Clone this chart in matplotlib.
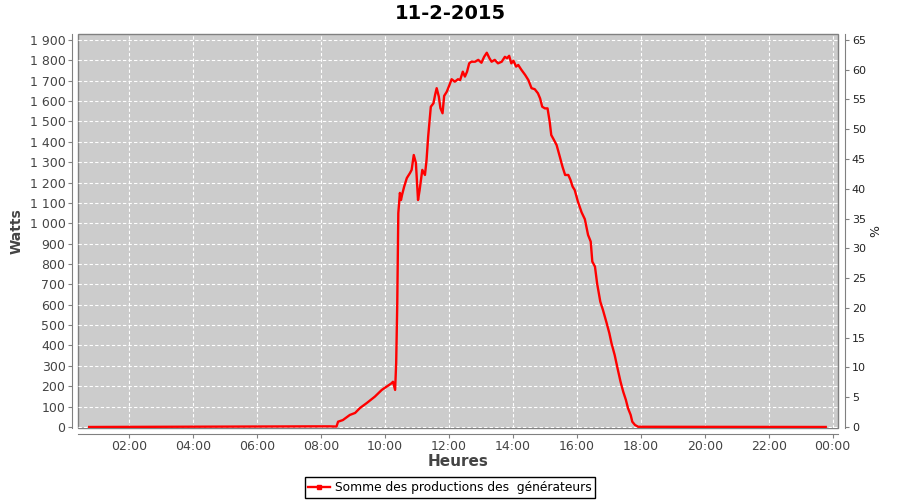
import matplotlib
matplotlib.use('Agg')
import matplotlib.pyplot as plt
import matplotlib.dates as mdates
from matplotlib.lines import Line2D
from matplotlib.ticker import FuncFormatter
from datetime import datetime, timedelta

# production du 11-2-2015
times = ["00:45", "07:45", "08:17", "08:29", "08:32", "08:41", "08:54", "09:04",
         "09:13", "09:26", "09:41", "09:54", "10:03", "10:12", "10:15", "10:19",
         "10:21", "10:23", "10:25", "10:28", "10:30", "10:32", "10:36", "10:41",
         "10:47", "10:50", "10:54", "10:58", "11:02", "11:05", "11:10", "11:15",
         "11:18", "11:21", "11:26", "11:31", "11:34", "11:37", "11:41", "11:44",
         "11:48", "11:51", "11:56", "12:01", "12:05", "12:11", "12:17", "12:21",
         "12:26", "12:30", "12:34", "12:38", "12:42", "12:49", "12:55", "13:01",
         "13:06", "13:11", "13:16", "13:20", "13:26", "13:32", "13:39", "13:45",
         "13:49", "13:53", "13:57", "14:01", "14:06", "14:10", "14:16", "14:23",
         "14:29", "14:35", "14:41", "14:47", "14:51", "14:55", "15:00", "15:05",
         "15:09", "15:12", "15:17", "15:22", "15:28", "15:33", "15:38", "15:44",
         "15:48", "15:52", "15:56", "16:02", "16:09", "16:15", "16:21", "16:26",
         "16:29", "16:34", "16:38", "16:44", "16:49", "16:56", "17:01", "17:05",
         "17:11", "17:17", "17:22", "17:27", "17:32", "17:36", "17:41", "17:44",
         "17:49", "17:55", "23:47"]
watts = [0, 3, 3, 2, 26, 34, 59, 69,
         93, 118, 149, 182, 198, 214, 222, 182,
         314, 600, 1050, 1149, 1114, 1139, 1180, 1222,
         1247, 1262, 1335, 1296, 1114, 1163, 1262, 1237,
         1311, 1425, 1572, 1589, 1630, 1663, 1622, 1565,
         1540, 1625, 1646, 1679, 1707, 1695, 1707, 1703,
         1744, 1720, 1744, 1785, 1793, 1793, 1802, 1788,
         1817, 1837, 1810, 1793, 1802, 1785, 1793, 1817,
         1810, 1822, 1785, 1798, 1769, 1777, 1753, 1728,
         1703, 1663, 1658, 1638, 1613, 1572, 1564, 1564,
         1499, 1433, 1409, 1384, 1327, 1278, 1237, 1237,
         1213, 1180, 1163, 1106, 1053, 1020, 943, 910,
         812, 787, 705, 615, 574, 509, 460, 411,
         353, 280, 222, 173, 133, 92, 59, 26,
         10, 1, 0]

title = "11-2-2015"
serie_label = "Somme des productions des  générateurs"
watt_ticks = list(range(0, 2000, 100))
pct_ticks = list(range(0, 70, 5))

day = datetime(2015, 2, 11)


def to_dt(s):
    h, m = map(int, s.split(':'))
    return day + timedelta(hours=h, minutes=m)


x = [to_dt(t) for t in times]

fig = plt.figure(figsize=(9, 5), dpi=100)
ax = fig.add_axes([78 / 900, 72 / 500, 760 / 900, 394 / 500])
ax.set_facecolor('#cccccc')
ax.patch.set_edgecolor('#808080')
ax.patch.set_linewidth(1.0)

ax.plot(x, watts, color='#ff0000', lw=1.7, solid_joinstyle='round')

ax.set_xlim(day + timedelta(minutes=24), day + timedelta(hours=24, minutes=10))
ax.set_ylim(-5, 1929)
ax.set_yticks(watt_ticks)
ax.yaxis.set_major_formatter(FuncFormatter(lambda v, p: f"{int(v):,}".replace(',', ' ')))
ax.set_xticks([day + timedelta(hours=h) for h in range(2, 25, 2)])
ax.xaxis.set_major_formatter(mdates.DateFormatter('%H:%M'))
ax.grid(True, color='white', ls=(0, (3, 2)), lw=0.8)
ax.set_axisbelow(True)

for side in ['top', 'right']:
    ax.spines[side].set_visible(False)
for side in ['left', 'bottom']:
    ax.spines[side].set_position(('outward', 4))
    ax.spines[side].set_color('#808080')
ax.tick_params(colors='#808080', labelcolor='#444444', labelsize=9, length=3, width=0.8)
ax.tick_params(axis='x', pad=1.5)
ax.tick_params(axis='y', pad=2)

ax.set_xlabel("Heures", fontsize=11, fontweight='bold', color='#444444', labelpad=1)
ax.set_ylabel("Watts", fontsize=10, fontweight='bold', color='#444444', labelpad=4)

ax2 = ax.twinx()
ax2.set_ylim(-5 * 65 / 1900, 1929 * 65 / 1900)
ax2.set_yticks(pct_ticks)
for side in ['top', 'left', 'bottom']:
    ax2.spines[side].set_visible(False)
ax2.spines['right'].set_position(('outward', 5))
ax2.spines['right'].set_color('#808080')
ax2.tick_params(colors='#808080', labelcolor='#222222', labelsize=8, length=3, width=0.8, pad=2)
ax2.set_ylabel("%", fontsize=9, color='#222222', labelpad=2)

fig.suptitle(title, x=0.5, y=0.992, fontsize=14, fontweight='bold')

handle = Line2D([], [], color='#ff0000', lw=1.7, marker='s', markersize=2.5)
fig.legend([handle], [serie_label], loc='center', bbox_to_anchor=(0.5, 0.025),
           fontsize=8.8, frameon=True, fancybox=False, edgecolor='black', framealpha=1,
           handlelength=1.8, handletextpad=0.4, borderpad=0.3, borderaxespad=0)

fig.savefig('out.png', dpi=100)
